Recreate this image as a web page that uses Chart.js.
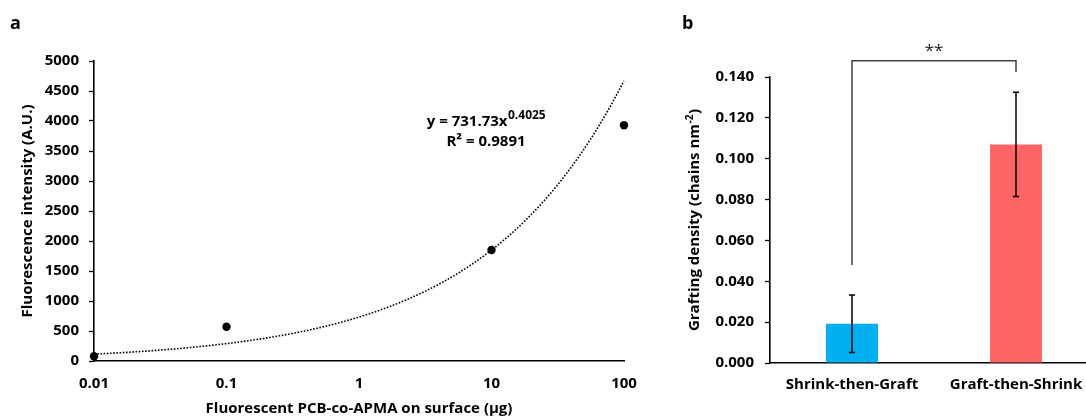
<!DOCTYPE html>
<html>
<head>
<meta charset="utf-8">
<script src="https://cdn.jsdelivr.net/npm/chart.js@4.4.1/dist/chart.umd.min.js"></script>
<style>
  html, body { margin: 0; padding: 0; background: #fff; overflow: hidden; }
  body { width: 1086px; height: 419px; position: relative; }
  #wrapA { position: absolute; left: 0; top: 0; width: 660px; height: 419px; }
  #wrapB { position: absolute; left: 650px; top: 0; width: 460px; height: 419px; }
</style>
</head>
<body>
<div id="wrapA"><canvas id="calib"></canvas></div>
<div id="wrapB"><canvas id="graft"></canvas></div>
<script>
// ---- Panel a: fluorescence calibration ----
const doseUg = [0.01, 0.1, 10, 100];
const intensityAU = [80, 570, 1850, 3930];
const doseTicks = [0.01, 0.1, 1, 10, 100];
const fitCoef = 731.73;
const fitExp = 0.4025;
const fitR2 = '0.9891';

// ---- Panel b: grafting density ----
const methods = ['Shrink-then-Graft', 'Graft-then-Shrink'];
const densityMean = [0.0192, 0.1070];
const densityErr = [0.0141, 0.0255];
const significance = '**';

const FONT = '"Open Sans", Lato, sans-serif';
const tickFont = { family: FONT, size: 15, weight: 'bold' };
const titleFont = { family: FONT, size: 15, weight: 'bold' };

// power-law trendline sampled along the log axis
const trend = [];
for (let e = -2; e <= 2.0001; e += 0.05) {
  const x = Math.pow(10, e);
  trend.push({ x: x, y: fitCoef * Math.pow(x, fitExp) });
}

const panelLetter = (letter, x, y) => ({
  id: 'letter' + letter,
  afterDraw(chart) {
    const c = chart.ctx;
    c.save();
    c.fillStyle = '#000';
    c.font = 'bold 18px ' + FONT;
    c.textBaseline = 'middle';
    c.textAlign = 'left';
    c.fillText(letter, x, y);
    c.restore();
  }
});

const equationLabel = {
  id: 'equationLabel',
  afterDraw(chart) {
    const c = chart.ctx;
    c.save();
    c.fillStyle = '#000';
    c.textBaseline = 'middle';
    const main = 'y = ' + fitCoef.toFixed(2) + 'x';
    const sup = String(fitExp);
    c.font = 'bold 15px ' + FONT;
    const wMain = c.measureText(main).width;
    c.font = 'bold 12px ' + FONT;
    const wSup = c.measureText(sup).width;
    const cx = 486;
    const left = cx - (wMain + wSup) / 2;
    c.font = 'bold 15px ' + FONT;
    c.textAlign = 'left';
    c.fillText(main, left, 122);
    c.font = 'bold 12px ' + FONT;
    c.fillText(sup, left + wMain + 0.5, 116);
    c.font = 'bold 15px ' + FONT;
    c.textAlign = 'center';
    c.fillText('R\u00B2 = ' + fitR2, cx, 142);
    c.restore();
  }
};

new Chart(document.getElementById('calib'), {
  type: 'scatter',
  data: {
    datasets: [
      {
        data: trend,
        showLine: true,
        pointRadius: 0,
        borderColor: '#000',
        borderWidth: 1.6,
        borderDash: [1.6, 1.6],
        tension: 0,
        clip: false
      },
      {
        data: doseUg.map((x, i) => ({ x: x, y: intensityAU[i] })),
        pointRadius: 4.2,
        pointBackgroundColor: '#000',
        pointBorderColor: '#000',
        pointBorderWidth: 0,
        clip: false
      }
    ]
  },
  options: {
    responsive: true,
    maintainAspectRatio: false,
    animation: false,
    events: [],
    layout: { padding: { top: 61, right: 36, bottom: 0, left: 0 } },
    plugins: { legend: { display: false }, tooltip: { enabled: false } },
    scales: {
      x: {
        type: 'logarithmic',
        min: 0.01,
        max: 100,
        afterBuildTicks(s) { s.ticks = doseTicks.map(v => ({ value: v })); },
        afterFit(s) { s.height = 58; },
        grid: { display: false, drawTicks: false },
        border: { display: true, color: '#000', width: 1.6 },
        ticks: {
          autoSkip: false,
          maxRotation: 0,
          padding: 14,
          color: '#000',
          font: tickFont,
          callback: v => String(v)
        },
        title: {
          display: true,
          text: 'Fluorescent PCB-co-APMA on surface (\u00B5g)',
          color: '#000',
          font: titleFont,
          padding: { top: 0, bottom: 1 }
        }
      },
      y: {
        min: 0,
        max: 5000,
        afterFit(s) { s.width = 94; },
        grid: { drawOnChartArea: false, drawTicks: true, tickLength: 5, color: '#000', tickWidth: 1.3 },
        border: { display: true, color: '#000', width: 1.6 },
        ticks: { stepSize: 500, padding: 10, color: '#000', font: tickFont, callback: v => String(v) },
        title: {
          display: true,
          text: 'Fluorescence intensity (A.U.)',
          color: '#000',
          font: titleFont,
          padding: { top: 19, bottom: 0 }
        }
      }
    }
  },
  plugins: [equationLabel, panelLetter('a', 10, 24)]
});

// ---- Panel b drawing helpers ----
const errorBars = {
  id: 'errorBars',
  afterDatasetsDraw(chart) {
    const c = chart.ctx;
    const meta = chart.getDatasetMeta(0);
    const ys = chart.scales.y;
    c.save();
    c.strokeStyle = '#000';
    c.lineWidth = 1.5;
    meta.data.forEach((bar, i) => {
      const x = bar.x;
      const yHi = ys.getPixelForValue(densityMean[i] + densityErr[i]);
      const yLo = ys.getPixelForValue(densityMean[i] - densityErr[i]);
      c.beginPath();
      c.moveTo(x, yHi); c.lineTo(x, yLo);
      c.moveTo(x - 3, yHi); c.lineTo(x + 3, yHi);
      c.moveTo(x - 3, yLo); c.lineTo(x + 3, yLo);
      c.stroke();
    });
    c.restore();
  }
};

const bracketLevels = { left: 0.048, top: 0.148, right: 0.1425 };

const sigBracket = {
  id: 'sigBracket',
  afterDraw(chart) {
    const c = chart.ctx;
    const xs = chart.scales.x, ys = chart.scales.y;
    const x1 = xs.getPixelForValue(0), x2 = xs.getPixelForValue(1);
    const yL = ys.getPixelForValue(bracketLevels.left);
    const yT = ys.getPixelForValue(bracketLevels.top);
    const yR = ys.getPixelForValue(bracketLevels.right);
    c.save();
    c.strokeStyle = '#404040';
    c.lineWidth = 1.5;
    c.beginPath();
    c.moveTo(x1, yL); c.lineTo(x1, yT); c.lineTo(x2, yT); c.lineTo(x2, yR);
    c.stroke();
    c.fillStyle = '#202020';
    c.font = '17px ' + FONT;
    c.textAlign = 'center';
    c.textBaseline = 'middle';
    c.fillText(significance, (x1 + x2) / 2, yT - 10);
    c.restore();
  }
};

const densityTitle = {
  id: 'densityTitle',
  afterDraw(chart) {
    const c = chart.ctx;
    const area = chart.chartArea;
    const main = 'Grafting density (chains nm';
    const sup = '-2';
    const tail = ')';
    c.save();
    c.fillStyle = '#000';
    c.textBaseline = 'middle';
    c.textAlign = 'left';
    c.font = 'bold 15px ' + FONT;
    const w1 = c.measureText(main).width;
    const w3 = c.measureText(tail).width;
    c.font = 'bold 10px ' + FONT;
    const w2 = c.measureText(sup).width;
    const total = w1 + w2 + w3 + 1;
    c.translate(45, (area.top + area.bottom) / 2);
    c.rotate(-Math.PI / 2);
    let x = -total / 2;
    c.font = 'bold 15px ' + FONT;
    c.fillText(main, x, 0);
    x += w1 + 0.5;
    c.font = 'bold 10px ' + FONT;
    c.fillText(sup, x, -5);
    x += w2 + 0.5;
    c.font = 'bold 15px ' + FONT;
    c.fillText(tail, x, 0);
    c.restore();
  }
};

new Chart(document.getElementById('graft'), {
  type: 'bar',
  data: {
    labels: methods,
    datasets: [{
      data: densityMean,
      backgroundColor: ['#00B0F0', '#FF6565'],
      borderWidth: 0,
      barPercentage: 0.317,
      categoryPercentage: 1
    }]
  },
  options: {
    responsive: true,
    maintainAspectRatio: false,
    animation: false,
    events: [],
    layout: { padding: { top: 77, right: 12, bottom: 0, left: 0 } },
    plugins: { legend: { display: false }, tooltip: { enabled: false } },
    scales: {
      x: {
        afterFit(s) { s.height = 56; },
        grid: { display: false, drawTicks: false },
        border: { display: true, color: '#000', width: 1.6 },
        ticks: { padding: 13, color: '#000', font: tickFont, maxRotation: 0 }
      },
      y: {
        min: 0,
        max: 0.14,
        afterFit(s) { s.width = 120; },
        grid: { drawOnChartArea: false, drawTicks: true, tickLength: 5, color: '#000', tickWidth: 1.3 },
        border: { display: true, color: '#000', width: 1.6 },
        ticks: {
          stepSize: 0.02,
          padding: 11,
          color: '#000',
          font: tickFont,
          callback: v => v.toFixed(3)
        }
      }
    }
  },
  plugins: [errorBars, sigBracket, densityTitle, panelLetter('b', 32, 24)]
});
</script>
</body>
</html>
